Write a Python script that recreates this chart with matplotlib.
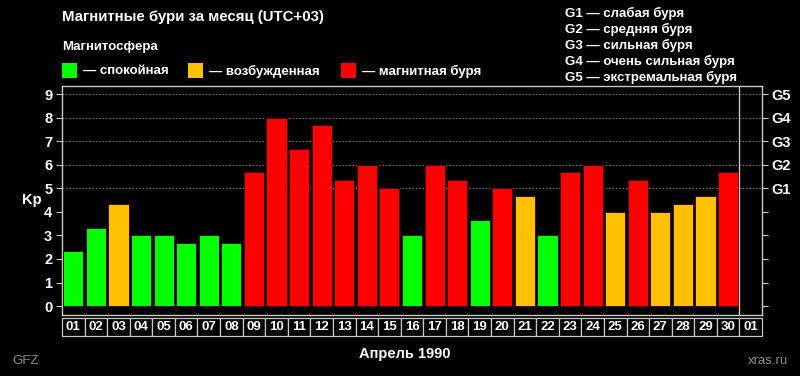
import matplotlib.pyplot as plt
from matplotlib.patches import Rectangle
from matplotlib.transforms import blended_transform_factory

plt.rcParams['font.family'] = ['Liberation Sans', 'DejaVu Sans']

days = ['01', '02', '03', '04', '05', '06', '07', '08', '09', '10',
        '11', '12', '13', '14', '15', '16', '17', '18', '19', '20',
        '21', '22', '23', '24', '25', '26', '27', '28', '29', '30', '01']
kp = [2.33, 3.33, 4.33, 3.0, 3.0, 2.67, 3.0, 2.67, 5.67, 8.0,
      6.67, 7.67, 5.33, 6.0, 5.0, 3.0, 6.0, 5.33, 3.67, 5.0,
      4.67, 3.0, 5.67, 6.0, 4.0, 5.33, 4.0, 4.33, 4.67, 5.67]
state = ['q', 'q', 'a', 'q', 'q', 'q', 'q', 'q', 's', 's',
         's', 's', 's', 's', 's', 'q', 's', 's', 'q', 's',
         'a', 'q', 's', 's', 'a', 's', 'a', 'a', 'a', 's']
g_labels = ['G1', 'G2', 'G3', 'G4', 'G5']
g_lines = ['G1 — слабая буря', 'G2 — средняя буря', 'G3 — сильная буря',
           'G4 — очень сильная буря', 'G5 — экстремальная буря']
legend_items = [('q', '— спокойная'), ('a', '— возбужденная'), ('s', '— магнитная буря')]

colors = {'q': '#00ff00', 'a': '#ffc000', 's': '#ff0000'}
frame = '#c8c8c8'

fig = plt.figure(figsize=(8, 3.76), dpi=100, facecolor='black')
ax = fig.add_axes([0.0775, 0.1622, 0.875, 0.609])
ax.set_facecolor('black')

x = list(range(len(days)))
ax.bar(x[:len(kp)], kp, width=0.89, color=[colors[s] for s in state],
       edgecolor='#300000', linewidth=0.6, zorder=3)

ax.set_xlim(-0.5, len(days) - 0.5)
ax.set_ylim(-0.38, 9.34)
for v in range(5, 10):
    ax.axhline(v, color='#7a7a7a', lw=0.6, ls=(0, (2, 2)), zorder=1)
ax.axvline(len(days) - 1.5, color=frame, lw=1, zorder=4)

for sp in ax.spines.values():
    sp.set_color(frame)
    sp.set_linewidth(1)

ax.set_yticks(range(10))
ax.set_yticklabels([str(v) for v in range(10)], color='white', fontsize=10.5, fontweight='bold')
ax.tick_params(axis='y', colors=frame, length=4, width=0.8, pad=3, labelcolor='white')
ax.set_xticks([])

ax2 = ax.twinx()
ax2.set_ylim(ax.get_ylim())
ax2.set_yticks(range(10))
ax2.set_yticklabels([''] * 5 + g_labels, color='white', fontsize=10.5, fontweight='bold')
ax2.tick_params(axis='y', colors=frame, length=4, width=0.8, pad=3, labelcolor='white')
for sp in ax2.spines.values():
    sp.set_visible(False)

# boxed day labels under the axis
tr = blended_transform_factory(ax.transData, ax.transAxes)
for i, d in enumerate(days):
    ax.add_patch(Rectangle((i - 0.5, -0.092), 1, 0.079, transform=tr, clip_on=False,
                           facecolor='black', edgecolor=frame, lw=0.9))
    ax.text(i, -0.053, d, transform=tr, ha='center', va='center', color='white',
            fontsize=9.5, fontweight='bold', clip_on=False)

fig.text(22 / 800, 1 - 200 / 376, 'Kp', color='white', fontsize=10.5, fontweight='bold',
         va='center', ha='left')

fig.text(62 / 800, 1 - 17 / 376, 'Магнитные бури за месяц (UTC+03)', color='white',
         fontsize=10.8, fontweight='bold', va='center')
fig.text(62 / 800, 1 - 47 / 376, 'Магнитосфера', color='white', fontsize=9.5,
         fontweight='bold', va='center')

sq_x = [62, 188, 341]
for (k, lab), sx in zip(legend_items, sq_x):
    fig.patches.append(Rectangle((sx / 800, 1 - 78 / 376), 15 / 800, 15 / 376,
                                 transform=fig.transFigure, facecolor=colors[k], edgecolor='none'))
    fig.text((sx + 21) / 800, 1 - 71 / 376, lab, color='white', fontsize=9.5,
             fontweight='bold', va='center')

for j, line in enumerate(g_lines):
    fig.text(565 / 800, 1 - (13 + j * 16) / 376, line, color='white', fontsize=9.5,
             fontweight='bold', va='center')

fig.text(405 / 800, 1 - 354 / 376, 'Апрель 1990', color='white', fontsize=10.5,
         fontweight='bold', ha='center', va='center')
fig.text(12 / 800, 1 - 361 / 376, 'GFZ', color='#8c8c8c', fontsize=9.5, va='center')
fig.text(788 / 800, 1 - 361 / 376, 'xras.ru', color='#8c8c8c', fontsize=9.5,
         ha='right', va='center')

fig.savefig('out.png', dpi=100, facecolor='black')
